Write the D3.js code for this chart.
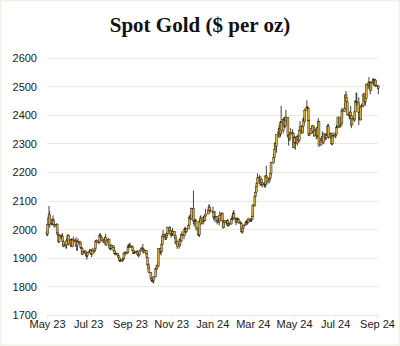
<!DOCTYPE html>
<html>
<head>
<meta charset="utf-8">
<script src="https://cdn.jsdelivr.net/npm/d3@7"></script>
<style>
  html, body { margin: 0; padding: 0; background: #ffffff; }
  svg { display: block; }
</style>
</head>
<body>
<svg id="chart" width="400" height="346"></svg>
<script>
// ---------- DATA ----------
const title = "Spot Gold ($ per oz)";
const startDate = "2023-05-01";
const endDate = "2024-09-03";
const holidays = ["2023-12-25", "2024-01-01", "2024-03-29"];
const firstOpen = 1990;
const yTicks = [1700, 1800, 1900, 2000, 2100, 2200, 2300, 2400, 2500, 2600];
const xTickDates = ["2023-05-01","2023-07-01","2023-09-01","2023-11-01","2024-01-01","2024-03-01","2024-05-01","2024-07-01","2024-09-01"];
const xTickLabels = ["May 23","Jul 23","Sep 23","Nov 23","Jan 24","Mar 24","May 24","Jul 24","Sep 24"];

const closes = [
1983,2016,2039,2050,2017,2021,2035,2030,2015,2011,2017,1989,1982,1957,1978,1971,1975,1957,1941,1946,1943,1959,1963,
1978,1948,1962,1963,1940,1965,1961,1957,1943,1942,1958,1957,1951,1936,1933,1913,1921,1923,1914,1907,1908,1919,
1921,1926,1915,1911,1925,1925,1932,1957,1961,1955,1955,1979,1976,1970,1962,1955,1965,1972,1946,1959,1965,
1944,1934,1934,1943,1936,1925,1915,1913,1914,1907,1901,1892,1889,1889,1895,1898,1915,1917,1914,1920,1937,1942,1940,
1940,1938,1926,1916,1919,1919,1922,1913,1908,1910,1924,1934,1931,1930,1919,1925,1915,1901,1875,1864,1848,
1827,1822,1821,1820,1833,1861,1861,1874,1869,1932,1920,1923,1947,1974,1981,1973,1970,1979,1985,2006,1996,1983,
1982,1985,1992,1977,1969,1950,1958,1940,1946,1963,1959,1981,1980,1977,1998,1990,1992,2001,2013,2041,2045,2036,
2072,2029,2019,2026,2028,2004,1981,1980,2027,2036,2019,2027,2040,2031,2046,2053,2067,2077,2065,2063,
2058,2042,2043,2045,2027,2029,2024,2029,2049,2055,2029,2006,2023,2029,2022,2029,2014,2020,2018,2033,2037,2039,
2054,2039,2025,2035,2035,2033,2024,2020,1992,1992,2004,2013,2018,2025,2025,2024,2035,2031,2030,2034,2044,
2083,2114,2128,2148,2160,2179,2182,2158,2174,2162,2155,2160,2157,2186,2181,2165,2172,2178,2195,2233,
2250,2280,2300,2290,2330,2339,2352,2333,2372,2344,2383,2383,2361,2379,2391,2327,2322,2316,2332,2337,2335,2286,
2320,2303,2301,2323,2314,2309,2346,2360,2336,2358,2385,2377,2415,2425,2421,2379,2329,2334,2351,2361,2338,2343,2327,
2350,2327,2355,2376,2294,2311,2316,2324,2303,2333,2319,2330,2328,2360,2322,2334,2319,2298,2327,2326,
2332,2330,2356,2357,2392,2359,2364,2371,2415,2411,2422,2469,2459,2445,2400,2396,2409,2397,2364,2386,2384,2410,2447,
2446,2443,2409,2390,2382,2427,2431,2472,2465,2447,2456,2507,2504,2514,2512,2484,2512,2518,2524,2504,2521,2503,
2500,2493
];

const highs = [
1999,2019,2042,2081,2062,2027,2037,2048,2034,2022,2020,2020,1995,1984,1984,1980,1984,1985,1962,1956,1950,1964,1975,
1983,1981,1964,1968,1965,1966,1974,1964,1972,1959,1960,1968,1959,1953,1939,1936,1925,1928,1925,1917,1911,1921,
1930,1930,1930,1921,1935,1930,1938,1960,1964,1963,1957,1984,1987,1978,1973,1963,1966,1974,1983,1962,1969,
1966,1946,1937,1947,1942,1938,1929,1922,1920,1917,1910,1903,1896,1895,1897,1902,1919,1920,1923,1923,1940,1948,1950,
1953,1944,1939,1929,1922,1925,1925,1926,1918,1916,1928,1936,1936,1948,1932,1932,1927,1918,1903,1879,1881,
1850,1836,1828,1825,1836,1866,1865,1876,1886,1933,1935,1927,1962,1980,1997,1985,1976,1982,1990,2009,2010,2008,
1988,1995,2004,1993,1979,1970,1961,1960,1947,1971,1971,1985,1994,1983,2007,2007,1996,2004,2018,2048,2052,2047,
2075,2135,2031,2037,2035,2034,2005,1993,2030,2047,2048,2030,2047,2045,2050,2071,2070,2088,2084,2075,
2079,2061,2052,2064,2046,2037,2039,2039,2062,2059,2058,2031,2025,2032,2031,2032,2036,2025,2025,2036,2048,2056,
2065,2066,2041,2038,2041,2039,2038,2029,2021,1995,2007,2016,2022,2031,2031,2035,2041,2038,2037,2039,2052,
2088,2119,2141,2152,2165,2195,2189,2184,2178,2175,2166,2164,2163,2189,2222,2183,2176,2185,2197,2236,
2266,2281,2305,2305,2330,2354,2365,2354,2378,2431,2385,2392,2393,2385,2417,2392,2334,2333,2338,2353,2350,2336,
2326,2326,2324,2331,2327,2323,2351,2378,2365,2362,2391,2387,2422,2450,2430,2428,2388,2338,2353,2365,2361,2351,2361,
2354,2350,2358,2388,2379,2317,2318,2342,2332,2336,2333,2335,2337,2368,2368,2337,2337,2320,2328,2339,
2338,2337,2364,2364,2393,2392,2366,2375,2424,2418,2439,2470,2483,2471,2446,2402,2412,2430,2400,2390,2393,2412,2451,
2477,2477,2461,2416,2402,2431,2439,2474,2477,2470,2463,2509,2510,2531,2515,2513,2518,2527,2528,2525,2524,2524,
2503,2502
];

const lows = [
1975,1977,2012,2034,2005,2013,2015,2022,2011,2005,2008,1985,1976,1952,1952,1967,1964,1955,1937,1938,1932,1932,1952,
1956,1943,1938,1955,1937,1938,1958,1951,1941,1925,1924,1953,1946,1932,1925,1911,1910,1916,1911,1903,1893,1902,
1916,1919,1912,1902,1910,1916,1922,1929,1954,1951,1947,1953,1970,1964,1958,1952,1952,1956,1943,1942,1952,
1940,1929,1926,1927,1933,1922,1912,1909,1910,1903,1899,1890,1885,1885,1885,1890,1896,1912,1908,1912,1918,1934,1938,
1935,1936,1923,1914,1913,1915,1916,1910,1904,1901,1906,1922,1927,1928,1915,1918,1911,1899,1873,1858,1846,
1827,1816,1815,1813,1810,1832,1855,1859,1866,1868,1913,1908,1921,1945,1967,1962,1962,1964,1971,1984,1991,1979,
1970,1976,1976,1967,1963,1947,1944,1931,1932,1940,1956,1954,1974,1965,1975,1986,1988,1990,2000,2011,2036,2031,
2034,2018,2009,2016,2021,1995,1977,1975,1973,2024,2015,2016,2021,2026,2028,2043,2052,2064,2061,2058,
2056,2031,2035,2024,2017,2025,2022,2013,2028,2046,2027,2001,2005,2016,2016,2010,2012,2009,2012,2016,2028,2032,
2037,2032,2014,2021,2028,2027,2019,2016,1990,1984,1988,1995,2012,2015,2020,2016,2020,2026,2025,2025,2031,
2042,2078,2107,2125,2146,2155,2174,2150,2155,2152,2146,2145,2147,2146,2168,2155,2160,2170,2172,2187,
2228,2243,2276,2280,2267,2320,2332,2319,2324,2331,2335,2367,2355,2355,2370,2320,2292,2311,2308,2330,2321,2285,
2282,2296,2277,2292,2310,2302,2306,2340,2334,2340,2355,2370,2375,2414,2408,2375,2326,2325,2333,2341,2334,2324,2322,
2314,2316,2322,2350,2287,2292,2300,2311,2300,2297,2310,2314,2325,2328,2316,2318,2314,2293,2295,2319,
2318,2319,2328,2352,2353,2353,2356,2361,2371,2392,2409,2421,2454,2437,2396,2384,2385,2393,2353,2365,2376,2377,2407,
2434,2431,2364,2385,2380,2381,2420,2426,2461,2439,2432,2455,2490,2502,2496,2471,2483,2505,2507,2500,2500,2497,
2489,2472
];

// ---------- BUILD ROWS ----------
const parse = d3.utcParse("%Y-%m-%d");
const fmt = d3.utcFormat("%Y-%m-%d");
const holidaySet = new Set(holidays);
const tradingDays = d3.utcDays(parse(startDate), d3.utcDay.offset(parse(endDate), 1))
  .filter(d => d.getUTCDay() !== 0 && d.getUTCDay() !== 6 && !holidaySet.has(fmt(d)));
if (tradingDays.length !== closes.length || highs.length !== closes.length || lows.length !== closes.length) {
  console.error("length mismatch", tradingDays.length, closes.length, highs.length, lows.length);
}
const rows = closes.map((c, i) => ({
  date: tradingDays[i],
  open: i === 0 ? firstOpen : closes[i - 1],
  close: c,
  high: highs[i],
  low: lows[i]
}));

// ---------- CHART ----------
const W = 400, H = 346;
const svg = d3.select("#chart");

svg.append("rect").attr("x", 0.5).attr("y", 0.5).attr("width", W - 1).attr("height", H - 1)
  .attr("fill", "#ffffff").attr("stroke", "#f3f0e6").attr("stroke-width", 2);

const x = d3.scaleUtc()
  .domain([parse(xTickDates[0]), parse(xTickDates[xTickDates.length - 1])])
  .range([47, 377]);
const y = d3.scaleLinear().domain([1700, 2600]).range([315, 57.5]);

const yAxis = d3.axisLeft(y).tickValues(yTicks).tickSize(0).tickPadding(0).tickFormat(d3.format("d"));
const gy = svg.append("g").attr("transform", "translate(37,0)").call(yAxis);
gy.select(".domain").remove();
gy.selectAll("text")
  .attr("font-family", "Liberation Sans, Arial, sans-serif")
  .attr("font-size", 11).attr("fill", "#1a1a1a").attr("dy", "0.36em");

svg.append("g").selectAll("line").data(yTicks).join("line")
  .attr("x1", 47).attr("x2", 378)
  .attr("y1", d => Math.round(y(d)) + 0.5).attr("y2", d => Math.round(y(d)) + 0.5)
  .attr("stroke", "#efe9dc").attr("stroke-width", 1);

const xAxis = d3.axisBottom(x)
  .tickValues(xTickDates.map(parse))
  .tickFormat((d, i) => xTickLabels[i])
  .tickSize(3).tickPadding(2);
const gx = svg.append("g").attr("transform", `translate(0,${Math.round(y(1700)) + 0.5})`).call(xAxis);
gx.select(".domain").remove();
gx.selectAll(".tick line").attr("stroke", "#efe9dc");
gx.selectAll("text")
  .attr("font-family", "Liberation Sans, Arial, sans-serif")
  .attr("font-size", 11).attr("fill", "#1a1a1a");

// candles: gold bodies outlined in black, black wicks
const bw = 2.0;
const gc = svg.append("g");
gc.selectAll("line.wick").data(rows).join("line")
  .attr("class", "wick")
  .attr("x1", d => x(d.date)).attr("x2", d => x(d.date))
  .attr("y1", d => y(d.high)).attr("y2", d => y(d.low))
  .attr("stroke", "#111").attr("stroke-width", 0.8);
gc.selectAll("rect.body").data(rows).join("rect")
  .attr("class", "body")
  .attr("x", d => x(d.date) - bw / 2)
  .attr("width", bw)
  .attr("y", d => y(Math.max(d.open, d.close)))
  .attr("height", d => Math.max(0.8, Math.abs(y(d.open) - y(d.close))))
  .attr("fill", "#d9aa3a")
  .attr("stroke", "#111").attr("stroke-width", 0.4);

svg.append("text")
  .attr("x", 200).attr("y", 32)
  .attr("text-anchor", "middle")
  .attr("font-family", "Liberation Serif, 'Times New Roman', serif")
  .attr("font-weight", "bold").attr("font-size", 21)
  .attr("fill", "#111")
  .text(title);
</script>
</body>
</html>
